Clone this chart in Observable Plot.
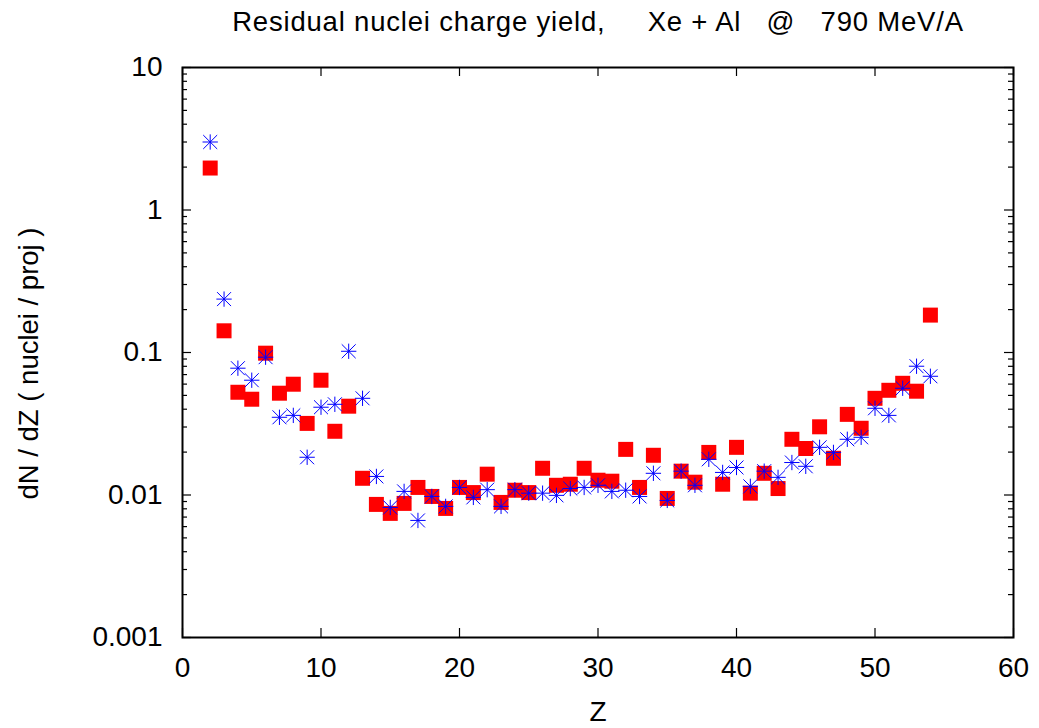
<!DOCTYPE html>
<html><head><meta charset="utf-8">
<script src="https://cdn.jsdelivr.net/npm/d3@7"></script>
<script src="https://cdn.jsdelivr.net/npm/@observablehq/plot@0.6"></script>
<style>body{margin:0;background:#fff} svg{display:block} .ttl text{letter-spacing:0.8px}</style>
</head><body><div id="chart"></div>
<script>
const charges = [2,3,4,5,6,7,8,9,10,11,12,13,14,15,16,17,18,19,20,21,22,23,24,25,26,27,28,29,30,31,32,33,34,35,36,37,38,39,40,41,42,43,44,45,46,47,48,49,50,51,52,53,54];
const yieldRed = [1.97,0.142,0.0526,0.0470,0.0989,0.0518,0.0599,0.0318,0.0639,0.0280,0.0420,0.0131,0.00859,0.00743,0.00873,0.0113,0.00977,0.00805,0.0113,0.0104,0.0140,0.00887,0.0108,0.0104,0.0154,0.0117,0.0119,0.0154,0.0127,0.0125,0.0209,0.0113,0.0190,0.00946,0.0147,0.0123,0.0199,0.0119,0.0216,0.0103,0.0142,0.0111,0.0246,0.0212,0.0301,0.0181,0.0368,0.0294,0.0477,0.0543,0.0608,0.0535,0.183];
const yieldBlue = [3.00,0.237,0.0776,0.0639,0.0927,0.0351,0.0362,0.0184,0.0413,0.0433,0.102,0.0477,0.0135,0.00818,0.0106,0.00663,0.00977,0.00832,0.0113,0.00962,0.0109,0.00832,0.0109,0.0103,0.0103,0.00994,0.0111,0.0113,0.0117,0.0106,0.0108,0.00977,0.0142,0.00916,0.0147,0.0117,0.0178,0.0144,0.0156,0.0115,0.0147,0.0133,0.0169,0.0159,0.0216,0.0199,0.0246,0.0254,0.0406,0.0362,0.0561,0.0801,0.0681];
const yTicks = [0.001,0.01,0.1,1,10];
const yTickLabels = ["0.001","0.01","0.1","1","10"];
const yMinorTicks = [0.002,0.003,0.004,0.005,0.006,0.007,0.008,0.009,0.02,0.03,0.04,0.05,0.06,0.07,0.08,0.09,0.2,0.3,0.4,0.5,0.6,0.7,0.8,0.9,2,3,4,5,6,7,8,9];
const xTicks = [0,10,20,30,40,50,60];
const xTickLabels = ["0","10","20","30","40","50","60"];
const titleText = "Residual nuclei charge yield,\u00a0\u00a0\u00a0\u00a0 Xe + Al\u00a0\u00a0 @\u00a0\u00a0 790 MeV/A";
const xLabel = "Z";
const yLabel = "dN / dZ ( nuclei / proj )";

const redData = charges.map((z, i) => ({z, v: yieldRed[i]}));
const blueData = charges.map((z, i) => ({z, v: yieldBlue[i]}));
const yLab = new Map(yTicks.map((t, i) => [t, yTickLabels[i]]));
const xLab = new Map(xTicks.map((t, i) => [t, xTickLabels[i]]));

const W = 1039, H = 728, mL = 182, mR = 26, mT = 67, mB = 91;
const fw = W - mL - mR, fh = H - mT - mB;
const font = "'Liberation Sans', Arial, Helvetica, sans-serif";

const chart = Plot.plot({
  width: W, height: H,
  marginLeft: mL, marginRight: mR, marginTop: mT, marginBottom: mB,
  style: {fontFamily: font, background: "white", color: "black"},
  x: {domain: [0, 60]},
  y: {type: "log", domain: [0.001, 10]},
  marks: [
    Plot.tickY(yTicks, {y: d => d, insetRight: fw - 9, stroke: "black", strokeWidth: 1.2}),
    Plot.tickY(yTicks, {y: d => d, insetLeft: fw - 9, stroke: "black", strokeWidth: 1.2}),
    Plot.tickY(yMinorTicks, {y: d => d, insetRight: fw - 5, stroke: "black", strokeWidth: 1.2}),
    Plot.tickY(yMinorTicks, {y: d => d, insetLeft: fw - 5, stroke: "black", strokeWidth: 1.2}),
    Plot.tickX(xTicks, {x: d => d, insetTop: fh - 9, stroke: "black", strokeWidth: 1.2}),
    Plot.tickX(xTicks, {x: d => d, insetBottom: fh - 9, stroke: "black", strokeWidth: 1.2}),
    Plot.frame({stroke: "black", strokeWidth: 2}),
    Plot.axisY(yTicks, {tickSize: 0, tickPadding: 20, tickFormat: d => yLab.get(d), label: null, fontSize: 28}),
    Plot.axisX(xTicks, {tickSize: 0, tickPadding: 20, tickFormat: d => xLab.get(d), label: null, fontSize: 28}),
    Plot.dot(redData, {x: "z", y: "v", symbol: "square", fill: "#ff0000", stroke: null, r: 8.46}),
    Plot.dot(blueData, {x: "z", y: "v", symbol: "plus", stroke: "#0000ff", fill: "none", strokeWidth: 1, r: 5}),
    Plot.dot(blueData, {x: "z", y: "v", symbol: "times", stroke: "#0000ff", fill: "none", strokeWidth: 1, r: 6.4}),
    Plot.text([titleText], {frameAnchor: "top", textAnchor: "middle", dy: -45, lineAnchor: "middle", fontSize: 27.5, text: d => d, fill: "black", className: "ttl"}),
    Plot.text([xLabel], {frameAnchor: "bottom", textAnchor: "middle", dy: 75, lineAnchor: "middle", fontSize: 28, text: d => d, fill: "black"}),
    Plot.text([yLabel], {frameAnchor: "left", textAnchor: "middle", dx: -153, dy: 11, rotate: -90, lineAnchor: "middle", fontSize: 27.5, text: d => d, fill: "black"})
  ]
});
document.getElementById("chart").append(chart);
</script>
</body></html>
